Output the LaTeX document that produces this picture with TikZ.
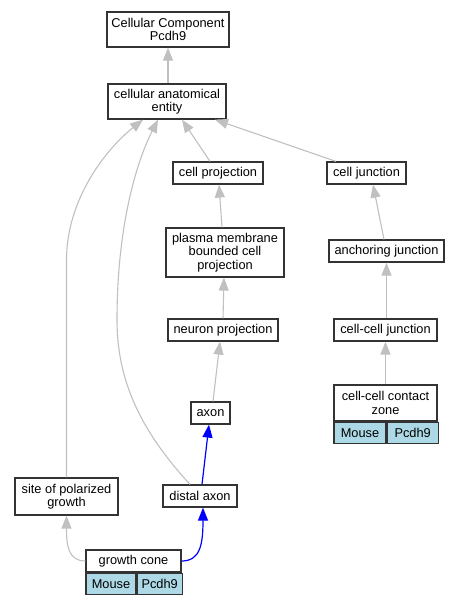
\documentclass[tikz,border=0pt]{standalone}
\usepackage{fontspec}
\setmainfont{Liberation Sans}
\usetikzlibrary{positioning, arrows.meta}
\definecolor{edgegray}{HTML}{C0C0C0}
\definecolor{taxonblue}{HTML}{ADD8E6}

\begin{document}
\begin{tikzpicture}[
    x=1pt, y=-1pt,
    >={Triangle[length=13pt,width=10pt]},
    font=\fontsize{12.8}{13.5}\selectfont,
    term/.style={draw=black!80, line width=1.2pt, fill=white, align=center, inner sep=0pt},
    tag/.style={draw=black!80, line width=1.2pt, fill=taxonblue, inner sep=0pt, minimum height=21pt, anchor=north west},
    isa/.style={->, draw=edgegray, line width=1.1pt},
    partof/.style={->, draw=blue, line width=1.2pt},
]
\useasboundingbox (0,0) rectangle (460,605);

% terms
\node[term, minimum width=122pt, minimum height=35pt] (root) at (168,29.5) {Cellular Component\\Pcdh9};
\node[term, minimum width=118pt, minimum height=35pt] (entity) at (167,101.5) {cellular anatomical\\entity};
\node[term, minimum width=90pt, minimum height=22pt] (cellproj) at (218,173) {cell projection};
\node[term, minimum width=79pt, minimum height=22pt] (celljunc) at (366.5,173) {cell junction};
\node[term, minimum width=118pt, minimum height=49pt] (plasma) at (225,252.5) {plasma membrane\\bounded cell\\projection};
\node[term, minimum width=115pt, minimum height=22pt] (anchor) at (386.5,251) {anchoring junction};
\node[term, minimum width=110pt, minimum height=22pt] (neuron) at (223,330) {neuron projection};
\node[term, minimum width=103pt, minimum height=22pt] (ccjunc) at (385.5,330) {cell-cell junction};
\node[term, minimum width=39pt, minimum height=22pt] (axon) at (210.5,413) {axon};
\node[term, minimum width=103pt, minimum height=36pt] (contact) at (385.5,403) {cell-cell contact\\zone};
\node[term, minimum width=103pt, minimum height=37pt] (site) at (66.5,496.5) {site of polarized\\growth};
\node[term, minimum width=74pt, minimum height=22pt] (distal) at (200,496) {distal axon};
\node[term, minimum width=95pt, minimum height=22pt] (cone) at (133.5,561) {growth cone};

% annotations
\node[tag, minimum width=52pt] (contactmouse) at (contact.south west) {Mouse};
\node[tag, minimum width=51pt] (contactgene) at (contactmouse.north east) {Pcdh9};
\node[tag, minimum width=50pt] (conemouse) at (cone.south west) {Mouse};
\node[tag, minimum width=45pt] (conegene) at (conemouse.north east) {Pcdh9};

% is_a edges
\draw[isa] ([xshift=1pt]entity.north) -- (root.south);
\draw[isa] ([xshift=-8pt]cellproj.north) -- ([xshift=15pt]entity.south);
\draw[isa] ([xshift=-30.5pt]celljunc.north) -- ([xshift=48pt]entity.south);
\draw[isa] (site.north) -- (66.5,260) .. controls (66.5,200) and (105,150) .. ([xshift=-24pt]entity.south);
\draw[isa] ([xshift=-10pt]distal.north) .. controls (140,430) and (117,380) .. (117,320)
    .. controls (117,230) and (135,165) .. ([xshift=-9pt]entity.south);
\draw[isa] ([xshift=-3pt]plasma.north) -- ([xshift=1pt]cellproj.south);
\draw[isa] (neuron.north) -- ([xshift=-1pt]plasma.south);
\draw[isa] ([xshift=2.5pt]axon.north) -- ([xshift=-3pt]neuron.south);
\draw[isa] ([xshift=-2.5pt]anchor.north) -- ([xshift=6.5pt]celljunc.south);
\draw[isa] ([xshift=1pt]ccjunc.north) -- (anchor.south);
\draw[isa] (contact.north) -- (ccjunc.south);
\draw[isa] (cone.west) .. controls (68,561) and (66.5,545) .. (site.south);

% part_of edges
\draw[partof] ([xshift=2pt]distal.north) -- ([xshift=-1.5pt]axon.south);
\draw[partof] (cone.east) .. controls (200,561) and (203,545) .. ([xshift=3pt]distal.south);
\end{tikzpicture}
\end{document}
